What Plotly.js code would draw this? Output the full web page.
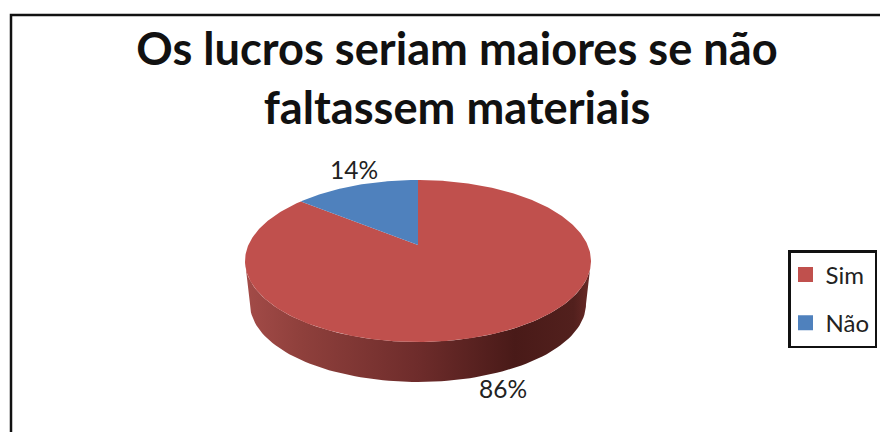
<!DOCTYPE html>
<html>
<head>
<meta charset="utf-8">
<script src="https://cdn.plot.ly/plotly-3.0.1.min.js"></script>
<style>html,body{margin:0;padding:0;background:#fff;overflow:hidden}</style>
</head>
<body>
<div id="chart" style="width:880px;height:432px"></div>
<script>
const categories = ["Sim", "Não"];
const shares = [86, 14];
const sliceColors = ["#C0504D", "#4F81BD"];
const titleText = "Os lucros seriam maiores se não<br>faltassem materiais";

// view geometry of the tilted disc, in axis units
const cx = 418, cy = 261, rx = 173, ry = 81, apexY = 245, foreshorten = 0.761;
const bottomCy = 304, bottomRx = 168, bottomRy = 78;

function viewAngle(t) { return Math.atan2(foreshorten * Math.sin(t), Math.cos(t)); }
function arc(t0, t1) {
  const xs = [], ys = [];
  const n = Math.max(2, Math.round(Math.abs(t1 - t0) * 90));
  for (let i = 0; i <= n; i++) {
    const a = viewAngle(t0 + (t1 - t0) * i / n);
    xs.push(cx + rx * Math.sin(a));
    ys.push(cy - ry * Math.cos(a));
  }
  return [xs, ys];
}

const total = shares.reduce((a, b) => a + b, 0);
const traces = [];

// side wall: lower half of the rim
const wx = [], wy = [];
for (let d = 90; d <= 270; d += 2) {
  const a = d * Math.PI / 180;
  wx.push(cx + rx * Math.sin(a)); wy.push(cy - ry * Math.cos(a));
}
for (let d = 270; d >= 90; d -= 2) {
  const a = d * Math.PI / 180;
  wx.push(cx + bottomRx * Math.sin(a)); wy.push(bottomCy - bottomRy * Math.cos(a));
}
traces.push({
  type: "scatter", mode: "lines", x: wx, y: wy, fill: "toself",
  line: {width: 0, color: "rgba(0,0,0,0)"},
  fillgradient: {
    type: "horizontal", start: cx - rx, stop: cx + rx,
    colorscale: [[0, "#A34B48"], [0.16, "#8F403C"], [0.5, "#6E2C2B"], [0.78, "#491A18"], [0.95, "#52201D"], [1, "#6A2A27"]]
  },
  showlegend: false, hoverinfo: "skip"
});

// top face wedges
let acc = 0;
shares.forEach((v, i) => {
  const t0 = acc / total * 2 * Math.PI;
  acc += v;
  const t1 = acc / total * 2 * Math.PI;
  const [ax, ay] = arc(t0, t1);
  traces.push({
    type: "scatter", mode: "lines",
    x: [cx, ...ax, cx], y: [apexY, ...ay, apexY],
    fill: "toself", fillcolor: sliceColors[i],
    line: {width: 0, color: sliceColors[i]},
    showlegend: false, hoverinfo: "skip"
  });
});

// legend entries
categories.forEach((c, i) => {
  traces.push({
    type: "scatter", mode: "markers", x: [null], y: [null], name: c,
    legendgroup: c,
    marker: {symbol: "square", size: 15, color: sliceColors[i]}
  });
});

const layout = {
  width: 880, height: 432,
  margin: {l: 0, r: 0, t: 0, b: 0},
  paper_bgcolor: "#fff", plot_bgcolor: "#fff",
  showlegend: true,
  font: {family: "Lato, Carlito, sans-serif", color: "#222"},
  title: {
    text: titleText, x: 457 / 880, xanchor: "center", xref: "paper",
    y: 0.85, yanchor: "top", yref: "container",
    font: {family: "Lato, sans-serif", size: 45.2, color: "#111", weight: 700}
  },
  xaxis: {range: [0, 880], visible: false, fixedrange: true},
  yaxis: {range: [432, 0], visible: false, fixedrange: true},
  legend: {
    x: 788 / 880, xanchor: "left", y: 1 - 250 / 432, yanchor: "top",
    bgcolor: "#fff", bordercolor: "#111", borderwidth: 2.5,
    font: {family: "Lato, sans-serif", size: 24, color: "#222"},
    traceorder: "grouped", tracegroupgap: 14, itemwidth: 30, itemsizing: "trace",
    indentation: -5
  },
  shapes: [{
    type: "rect", xref: "x", yref: "y", x0: 11, x1: 900, y0: 15, y1: 500,
    line: {color: "#111", width: 2.5}, fillcolor: "rgba(0,0,0,0)", layer: "below"
  }],
  annotations: [
    {xref: "x", yref: "y", x: 354, y: 169, text: shares[1] + "%", showarrow: false,
     font: {family: "Lato, sans-serif", size: 24.5, color: "#222"}},
    {xref: "x", yref: "y", x: 503, y: 388, text: shares[0] + "%", showarrow: false,
     font: {family: "Lato, sans-serif", size: 24.5, color: "#222"}}
  ]
};

Plotly.newPlot("chart", traces, layout, {displayModeBar: false, staticPlot: true});
</script>
</body>
</html>
